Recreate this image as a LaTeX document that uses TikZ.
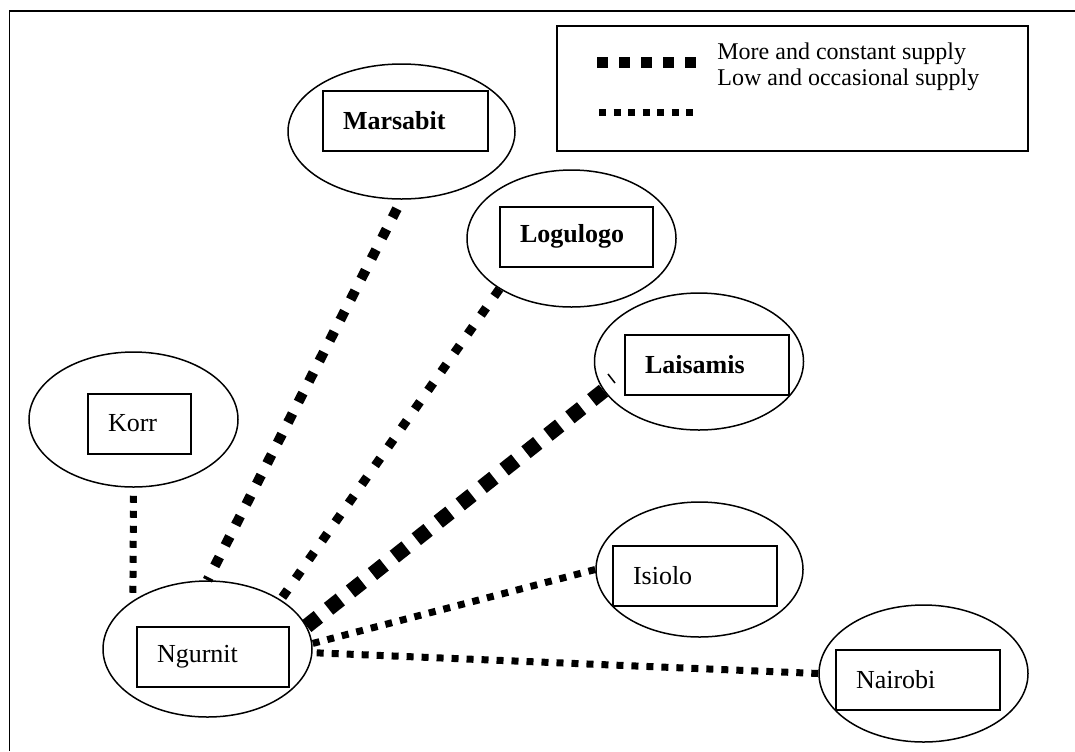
\documentclass[tikz,border=0pt]{standalone}
\usepackage{fontspec}
\setmainfont{Liberation Serif}
\usetikzlibrary{shapes.geometric}

\begin{document}
\begin{tikzpicture}[x=0.5pt, y=-0.5pt,
    town/.style={draw, ellipse, line width=0.75pt, inner sep=0pt, minimum width=104.5pt, minimum height=68pt},
    namebox/.style={draw, line width=1pt, minimum height=30pt, inner xsep=10pt, inner ysep=0pt, text width=#1, align=left, font=\fontsize{13}{15}\selectfont},
    supply/.style 2 args={line width=#1, dash pattern=on #1 off #2},
    strong/.style={supply={5.5pt}{5.5pt}},
    weak/.style={supply={3.5pt}{4pt}}
]
\useasboundingbox (0,0) rectangle (1075,751);
\draw[line width=0.8pt] (9.5,751) -- (9.5,11) -- (1075,11);

\node[town, minimum width=113.5pt, minimum height=67.5pt] (marsabitE) at (401.5,131.5) {};
\node[namebox=62.5pt] (marsabit) at (405.5,121) {\textbf{Marsabit}};
\node[town, minimum height=68.5pt] (logulogoE) at (571.5,238.5) {};
\node[namebox=56.5pt] (logulogo) at (576.5,236.5) {\textbf{Logulogo}};
\node[town, minimum height=68.5pt] (laisamisE) at (699,361.5) {};
\node[namebox=62pt] (laisamis) at (707,365) {\textbf{Laisamis}};
\node[town, minimum height=67.5pt] (korrE) at (133.5,419.5) {};
\node[namebox=31.5pt] (korr) at (139.5,423.5) {Korr};
\node[town] (ngurnitE) at (207.5,649) {};
\node[namebox=56pt] (ngurnit) at (213,656.5) {Ngurnit};
\node[town, minimum width=103.5pt, minimum height=67.5pt] (isioloE) at (699.5,569.5) {};
\node[namebox=62pt] (isiolo) at (695,576) {Isiolo};
\node[town, minimum height=68.5pt] (nairobiE) at (923.5,673.5) {};
\node[namebox=62pt] (nairobi) at (918,680) {Nairobi};

\draw[supply={5pt}{6.5pt}, shorten <=5pt] (marsabitE.south) -- (ngurnitE.north);
\draw[supply={4.5pt}{7pt}] (logulogoE.215) -- (ngurnitE.34);
\draw[supply={7.5pt}{6.5pt}] (laisamisE.197) -- (ngurnitE.13);
\draw[weak, shorten <=4pt] (korrE.south) -- (ngurnitE.147);
\draw[weak] (isioloE.west) -- (ngurnitE.3);
\draw[weak] (nairobiE.west) -- (ngurnitE.-2);
\draw[line width=0.75pt] (608,374) -- (615,383);

\node[draw, line width=1pt, minimum width=235.5pt, minimum height=62.5pt, inner sep=0pt] (key) at (792.5,88.5) {};
\coordinate (moreA) at (597,62);
\coordinate (moreB) at (697,62);
\coordinate (lowA) at (599,112);
\coordinate (lowB) at (693,112);
\draw[strong] (moreA) -- (moreB);
\draw[weak, dash pattern=on 3.5pt off 3.75pt] (lowA) -- (lowB);
\node[anchor=north west, inner sep=0pt, align=left, font=\fontsize{12}{13}\selectfont] (keytext) at (717,42) {More and constant supply\\Low and occasional supply};
\end{tikzpicture}
\end{document}
